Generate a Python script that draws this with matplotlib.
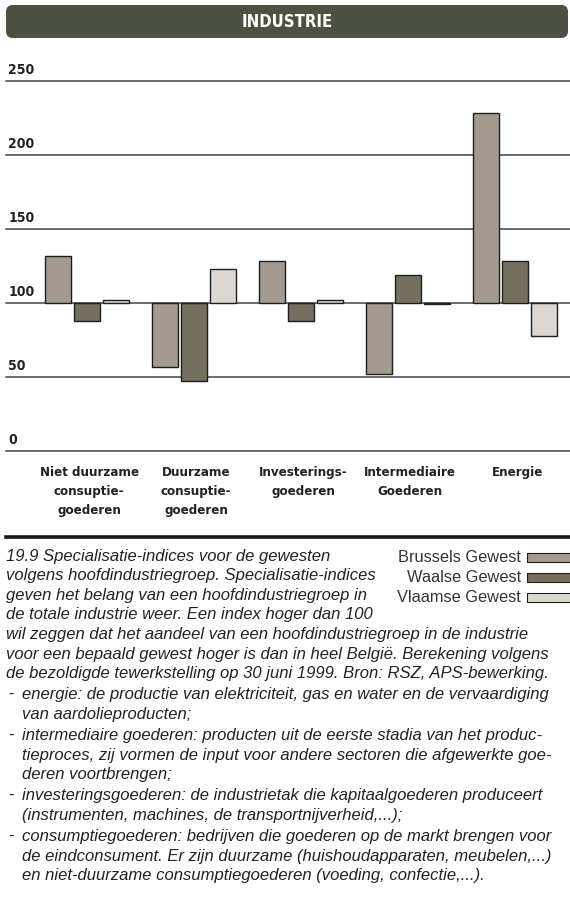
import matplotlib.pyplot as plt
import matplotlib.transforms as mtransforms
from matplotlib.patches import FancyBboxPatch, Rectangle
import numpy as np

# data
categories = ['Niet duurzame\nconsuptie-\ngoederen', 'Duurzame\nconsuptie-\ngoederen',
              'Investerings-\ngoederen', 'Intermediaire\nGoederen', 'Energie']
series_names = ['Brussels Gewest', 'Waalse Gewest', 'Vlaamse Gewest']
brussels = [131.8, 56.4, 128, 51.6, 228.2]
waals = [87.8, 47.1, 87.8, 118.5, 128.4]
vlaams = [101.5, 122.6, 101.5, 99, 77.5]
yticks = [0, 50, 100, 150, 200, 250]

colors = ['#a39b8f', '#756f60', '#dcd8d1']
edge = '#1e1e1e'

caption_top = [
    '19.9 Specialisatie-indices voor de gewesten',
    'volgens hoofdindustriegroep. Specialisatie-indices',
    'geven het belang van een hoofdindustriegroep in',
    'de totale industrie weer. Een index hoger dan 100',
    'wil zeggen dat het aandeel van een hoofdindustriegroep in de industrie',
    'voor een bepaald gewest hoger is dan in heel België. Berekening volgens',
    'de bezoldigde tewerkstelling op 30 juni 1999. Bron: RSZ, APS-bewerking.',
]
bullets = [
    ['energie: de productie van elektriciteit, gas en water en de vervaardiging',
     'van aardolieproducten;'],
    ['intermediaire goederen: producten uit de eerste stadia van het produc-',
     'tieproces, zij vormen de input voor andere sectoren die afgewerkte goe-',
     'deren voortbrengen;'],
    ['investeringsgoederen: de industrietak die kapitaalgoederen produceert',
     '(instrumenten, machines, de transportnijverheid,...);'],
    ['consumptiegoederen: bedrijven die goederen op de markt brengen voor',
     'de eindconsument. Er zijn duurzame (huishoudapparaten, meubelen,...)',
     'en niet-duurzame consumptiegoederen (voeding, confectie,...).'],
]

W, H = 570, 915
fig = plt.figure(figsize=(W / 100, H / 100), dpi=100)


def fx(px):
    return px / W


def fy(py):
    return 1 - py / H


cond = dict(family='DejaVu Sans', fontstretch='condensed', fontweight='bold')
body = ['Liberation Sans', 'DejaVu Sans']

# header bar
hdr = FancyBboxPatch((fx(6), fy(38)), fx(562), fy(5) - fy(38),
                     boxstyle='round,pad=0,rounding_size=0.012',
                     transform=fig.transFigure, facecolor='#4d5142',
                     edgecolor='none', mutation_aspect=W / H)
fig.patches.append(hdr)
fig.text(fx(287), fy(22), 'INDUSTRIE', color='white', fontsize=12,
         ha='center', va='center', **cond)

# chart
ax = fig.add_axes([fx(6), fy(450.7), fx(564), (450.7 - 80.7) / H])
ax.set_xlim(-0.757, 4.514)
ax.set_ylim(0, 250)
ax.axis('off')

for v in yticks:
    ax.axhline(v, color='#444444', lw=1.1, zorder=1, clip_on=False)
    ax.annotate(str(v), xy=(0, v), xycoords=('axes fraction', 'data'),
                xytext=(1.5, 3), textcoords='offset points', fontsize=10,
                color='#222222', ha='left', va='bottom', **cond)

x = np.arange(len(categories))
step = 28.75 / 107
width = 26 / 107
for i, vals in enumerate([brussels, waals, vlaams]):
    vals = np.array(vals)
    ax.bar(x + (i - 1) * step, vals - 100, width, bottom=100,
           color=colors[i], edgecolor=edge, linewidth=1.0, zorder=3)

trans = mtransforms.blended_transform_factory(ax.transData, fig.transFigure)
for i, lab in enumerate(categories):
    ax.text(x[i] + 0.02, fy(466), lab, transform=trans, ha='center', va='top',
            fontsize=9.5, color='#222222', linespacing=1.6, **cond)

# thick separator
fig.add_artist(plt.Line2D([fx(6), 1], [fy(537), fy(537)], color='#1a1a1a',
                          lw=2.6, transform=fig.transFigure))

# legend
for i, name in enumerate(series_names):
    yc = 557.5 + i * 20
    fig.text(fx(521), fy(yc), name, ha='right', va='center', fontsize=11.8,
             family=body, color='#333333')
    fig.patches.append(Rectangle((fx(527), fy(yc + 4.5)), fx(50), fy(yc - 4.5) - fy(yc + 4.5),
                                 transform=fig.transFigure, facecolor=colors[i],
                                 edgecolor=edge, linewidth=0.8))

# caption
y = 556
lh = 19.6
for line in caption_top:
    fig.text(fx(6), fy(y), line, ha='left', va='center', fontsize=12,
             style='italic', family=body, color='#222222')
    y += lh
for group in bullets:
    y += 1.5
    fig.text(fx(8), fy(y), '-', ha='left', va='center', fontsize=12,
             family=body, color='#222222')
    for line in group:
        fig.text(fx(22), fy(y), line, ha='left', va='center', fontsize=12,
                 style='italic', family=body, color='#222222')
        y += lh

fig.savefig('out.png', dpi=100)
